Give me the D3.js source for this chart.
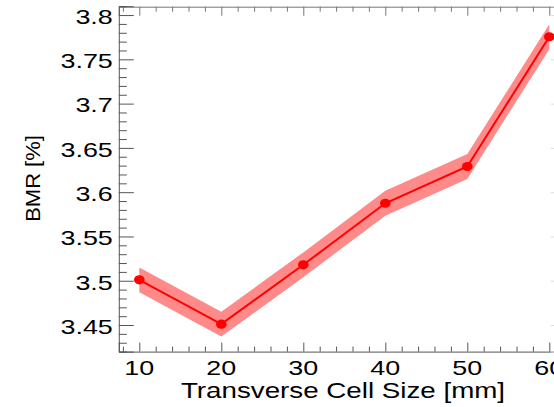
<!DOCTYPE html>
<html>
<head>
<meta charset="utf-8">
<script src="https://cdn.jsdelivr.net/npm/d3@7"></script>
<style>
  html, body { margin: 0; padding: 0; background: #fff; }
  svg { display: block; }
  text { font-family: "Liberation Sans", Arial, Helvetica, sans-serif; fill: #000; }
</style>
</head>
<body>
<svg id="chart" width="554" height="407"></svg>
<script>
// Data
const cellSize = [10, 20, 30, 40, 50, 60];
const bmr      = [3.501, 3.451, 3.518, 3.5875, 3.629, 3.7755];
const bmrErr   = [0.014, 0.014, 0.014, 0.014, 0.014, 0.014];
const xMajorTicks = [10, 20, 30, 40, 50, 60];
const yMajorTicks = [3.45, 3.5, 3.55, 3.6, 3.65, 3.7, 3.75, 3.8];
const yTickLabels = ["3.45", "3.5", "3.55", "3.6", "3.65", "3.7", "3.75", "3.8"];

const svg = d3.select("#chart");
const pLeft = 118.8, pRight = 565.7, pTop = 6.2, pBottom = 351.6;

const x = d3.scaleLinear().domain([7.5, 62]).range([pLeft, pRight]);
const y = d3.scaleLinear().domain([3.42, 3.81]).range([pBottom, pTop]);

const xMinor = d3.range(8, 62.01, 2).filter(v => v % 10 !== 0);
const yMinor = d3.range(342, 381.01, 1).map(v => v / 100).filter(v => Math.round(v * 100) % 5 !== 0);

const axisColor = "#555";
function styleAxis(g, color) {
  g.select(".domain").attr("stroke", color || axisColor).attr("stroke-width", 1);
  g.selectAll(".tick line").attr("stroke", color || axisColor).attr("stroke-width", 1);
}

// band + line + points
const rows = cellSize.map((c, i) => ({ c, v: bmr[i], e: bmrErr[i] }));
svg.append("path")
  .datum(rows)
  .attr("fill", "#ff8a8a")
  .attr("d", d3.area().x(d => x(d.c)).y0(d => y(d.v - d.e)).y1(d => y(d.v + d.e)));
svg.append("path")
  .datum(rows)
  .attr("fill", "none")
  .attr("stroke", "#ff0000")
  .attr("stroke-width", 2)
  .attr("d", d3.line().x(d => x(d.c)).y(d => y(d.v)));
svg.selectAll("ellipse.pt").data(rows).join("ellipse")
  .attr("class", "pt")
  .attr("cx", d => x(d.c)).attr("cy", d => y(d.v))
  .attr("rx", 5.3).attr("ry", 4.6)
  .attr("fill", "#ff0000");

// Bottom axis: major + minor ticks inward
const gB = svg.append("g").attr("transform", `translate(0,${pBottom})`)
  .call(d3.axisTop(x).tickValues(xMajorTicks).tickSize(9).tickFormat(""));
styleAxis(gB);
const gBm = svg.append("g").attr("transform", `translate(0,${pBottom})`)
  .call(d3.axisTop(x).tickValues(xMinor).tickSize(5).tickFormat(""));
styleAxis(gBm); gBm.select(".domain").remove();

// Top axis
const gT = svg.append("g").attr("transform", `translate(0,${pTop + 0.5})`)
  .call(d3.axisBottom(x).tickValues(xMajorTicks).tickSize(9).tickFormat(""));
styleAxis(gT, "#777");
const gTm = svg.append("g").attr("transform", `translate(0,${pTop + 0.5})`)
  .call(d3.axisBottom(x).tickValues(xMinor).tickSize(5).tickFormat(""));
styleAxis(gTm, "#777"); gTm.select(".domain").remove();

// Left axis
const gL = svg.append("g").attr("transform", `translate(${pLeft},0)`)
  .call(d3.axisRight(y).tickValues(yMajorTicks).tickSize(15).tickFormat(""));
styleAxis(gL);
const gLm = svg.append("g").attr("transform", `translate(${pLeft},0)`)
  .call(d3.axisRight(y).tickValues(yMinor).tickSize(8).tickFormat(""));
styleAxis(gLm); gLm.select(".domain").remove();

// Right axis (mostly outside the view)
const gR = svg.append("g").attr("transform", `translate(${pRight},0)`)
  .call(d3.axisLeft(y).tickValues(yMajorTicks).tickSize(15).tickFormat(""));
styleAxis(gR, "#ddd");

// Tick labels
const fs = 21, stretch = 1.28;
const yLab = svg.append("g").selectAll("text").data(yMajorTicks).join("text")
  .attr("x", pLeft - 6).attr("y", d => y(d)).attr("dy", "0.42em")
  .attr("text-anchor", "end").attr("font-size", fs)
  .text((d, i) => yTickLabels[i]);
const xLab = svg.append("g").selectAll("text").data(xMajorTicks).join("text")
  .attr("x", d => x(d)).attr("y", pBottom + 23)
  .attr("text-anchor", "middle").attr("font-size", fs)
  .text(d => d3.format("d")(d));

const xTitle = svg.append("text")
  .attr("x", 343).attr("y", 398)
  .attr("text-anchor", "middle").attr("font-size", 21.5)
  .text("Transverse Cell Size [mm]");
const yTitle = svg.append("text")
  .attr("transform", `translate(39.5,178.5) rotate(-90)`)
  .attr("text-anchor", "middle").attr("font-size", 20.5)
  .text("BMR [%]");

function widen(sel, k) {
  sel.each(function () {
    const w = this.getComputedTextLength();
    d3.select(this).attr("textLength", w * k).attr("lengthAdjust", "spacingAndGlyphs");
  });
}
widen(yLab, stretch);
widen(xLab, stretch);
widen(xTitle, 1.29);
widen(yTitle, 1.07);
</script>
</body>
</html>
